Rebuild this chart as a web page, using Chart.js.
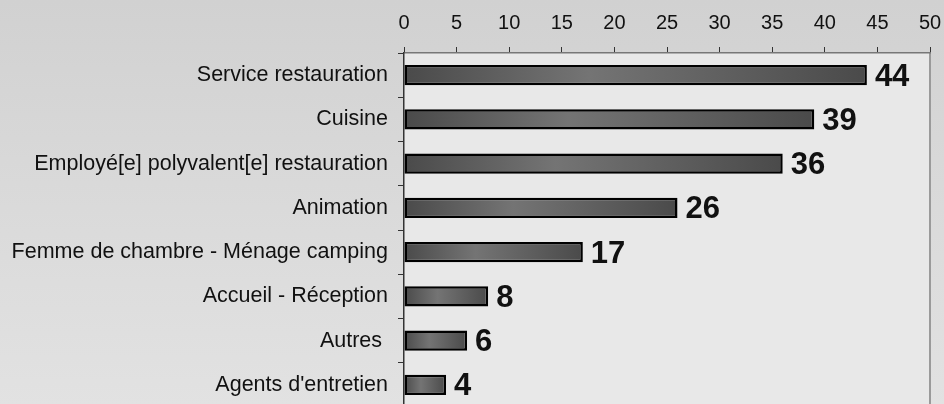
<!DOCTYPE html>
<html>
<head>
<meta charset="utf-8">
<script src="https://cdn.jsdelivr.net/npm/chart.js@4/dist/chart.umd.min.js"></script>
<style>
  html, body { margin: 0; padding: 0; overflow: hidden; }
  #wrap { width: 944px; height: 407px; background: linear-gradient(to bottom, #d1d1d1 0%, #d9d9d9 45%, #e2e2e2 100%); }
  canvas { display: block; }
</style>
</head>
<body>
<div id="wrap"><canvas id="c" width="944" height="407"></canvas></div>
<script>
const categories = [
  "Service restauration",
  "Cuisine",
  "Employé[e] polyvalent[e] restauration",
  "Animation",
  "Femme de chambre - Ménage camping",
  "Accueil - Réception",
  "Autres ",
  "Agents d'entretien"
];
const values = [44, 39, 36, 26, 17, 8, 6, 4];
const xTicks = [0, 5, 10, 15, 20, 25, 30, 35, 40, 45, 50];

const plotBg = {
  id: 'plotBg',
  beforeDraw(chart) {
    const { ctx, chartArea: a } = chart;
    ctx.save();
    ctx.fillStyle = '#e8e8e8';
    ctx.fillRect(a.left, a.top, a.right - a.left, a.bottom - a.top);
    ctx.strokeStyle = '#9a9a9a';
    ctx.lineWidth = 2;
    ctx.beginPath();
    ctx.moveTo(a.right, a.top);
    ctx.lineTo(a.right, a.bottom);
    ctx.stroke();
    ctx.restore();
  }
};

const valueLabels = {
  id: 'valueLabels',
  afterDatasetsDraw(chart) {
    const { ctx } = chart;
    const meta = chart.getDatasetMeta(0);
    ctx.save();
    ctx.font = 'bold 31px "Liberation Sans", Arial, sans-serif';
    ctx.fillStyle = '#111';
    ctx.textAlign = 'left';
    ctx.textBaseline = 'middle';
    meta.data.forEach((el, i) => {
      ctx.fillText(String(values[i]), el.x + 8, el.y + 2);
    });
    ctx.restore();
  }
};

new Chart(document.getElementById('c'), {
  type: 'bar',
  data: {
    labels: categories,
    datasets: [{
      data: values,
      barPercentage: 0.46,
      categoryPercentage: 1.0,
      borderColor: '#000',
      borderWidth: 2.5,
      borderSkipped: false,
      backgroundColor: (c) => {
        const chart = c.chart;
        if (!chart.chartArea || !chart.scales.x) return '#5a5a5a';
        const x0 = chart.scales.x.getPixelForValue(0);
        const x1 = chart.scales.x.getPixelForValue(c.raw);
        const g = chart.ctx.createLinearGradient(x0, 0, x1, 0);
        g.addColorStop(0, '#4a4a4a');
        g.addColorStop(0.4, '#747474');
        g.addColorStop(1, '#4a4a4a');
        return g;
      }
    }]
  },
  options: {
    indexAxis: 'y',
    responsive: false,
    animation: false,
    devicePixelRatio: 1,
    layout: { autoPadding: false, padding: { left: 0, right: 14, top: 0, bottom: 0 } },
    plugins: { legend: { display: false }, tooltip: { enabled: false } },
    scales: {
      x: {
        position: 'top',
        min: 0,
        max: 50,
        afterBuildTicks: (s) => { s.ticks = xTicks.map(v => ({ value: v })); },
        afterFit: (s) => { s.height = 53; s.paddingLeft = 0; s.paddingRight = 0; },
        grid: { drawOnChartArea: false, tickLength: 6, color: '#333', lineWidth: 1 },
        border: { display: true, color: '#777', width: 1.5 },
        ticks: {
          color: '#111',
          padding: 12,
          font: { family: '"Liberation Sans", Arial, sans-serif', size: 20 }
        }
      },
      y: {
        afterFit: (s) => { s.width = 404; s.paddingTop = 0; s.paddingBottom = 0; },
        grid: { drawOnChartArea: false, tickLength: 6, color: '#333', lineWidth: 1, offset: true },
        border: { display: true, color: '#333', width: 1.5 },
        ticks: {
          color: '#111',
          padding: 10,
          font: { family: '"Liberation Sans", Arial, sans-serif', size: 21.5 }
        }
      }
    }
  },
  plugins: [plotBg, valueLabels]
});
</script>
</body>
</html>
